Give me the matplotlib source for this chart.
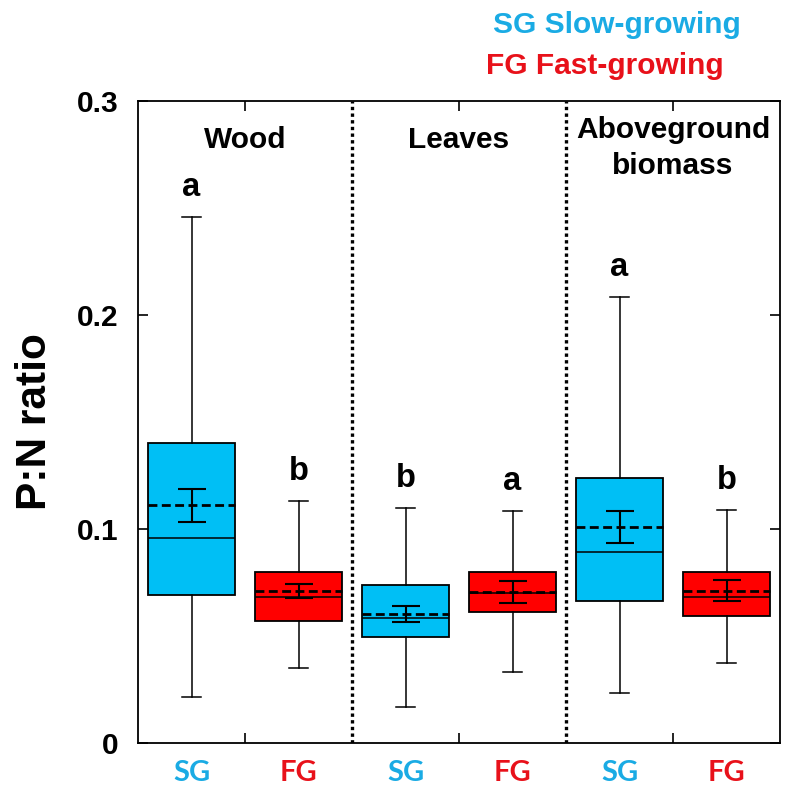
import matplotlib
matplotlib.use("Agg")
import matplotlib.pyplot as plt
import numpy as np

# ---- data ----
groups = ["Wood", "Leaves", "Aboveground\nbiomass"]
sg_whislo = [0.0216, 0.0167, 0.0232]
sg_q1 = [0.0690, 0.0497, 0.0664]
sg_med = [0.0958, 0.0586, 0.0891]
sg_q3 = [0.1400, 0.0740, 0.1240]
sg_whishi = [0.2460, 0.1098, 0.2086]
sg_mean = [0.1110, 0.0603, 0.1011]
sg_se = [0.0079, 0.0038, 0.0075]
sg_letters = ["a", "b", "a"]

fg_whislo = [0.0349, 0.0333, 0.0372]
fg_q1 = [0.0572, 0.0612, 0.0595]
fg_med = [0.0684, 0.0700, 0.0684]
fg_q3 = [0.0799, 0.0799, 0.0799]
fg_whishi = [0.1132, 0.1083, 0.1090]
fg_mean = [0.0712, 0.0706, 0.0712]
fg_se = [0.0033, 0.0050, 0.0050]
fg_letters = ["b", "a", "b"]

yticks = [0, 0.1, 0.2, 0.3]
ytick_labels = ["0", "0.1", "0.2", "0.3"]
ylabel = "P:N ratio"
legend_sg = "SG Slow-growing"
legend_fg = "FG Fast-growing"

SG_FILL = "#00BFF5"
FG_FILL = "#FF0000"
SG_TXT = "#1AABE4"
FG_TXT = "#E8111A"
ARIAL = "Liberation Sans"

fig = plt.figure(figsize=(8, 7.91), dpi=100)
ax = fig.add_axes([0.1725, 0.0607, 0.8025, 0.8116])

def stats(lo, q1, med, q3, hi, mean):
    return [dict(whislo=a, q1=b, med=c, q3=d, whishi=e, mean=f, fliers=[])
            for a, b, c, d, e, f in zip(lo, q1, med, q3, hi, mean)]

n = len(groups)
pos_sg = np.arange(n) + 0.25
pos_fg = np.arange(n) + 0.75

common = dict(widths=0.405, patch_artist=True, showmeans=True, meanline=True,
              showfliers=False,
              medianprops=dict(color="black", linewidth=1.1),
              whiskerprops=dict(color="black", linewidth=1.1),
              capprops=dict(color="black", linewidth=1.1),
              meanprops=dict(color="black", linestyle=(0, (3.2, 1.6)), linewidth=2.0),
              capwidths=0.085)

ax.bxp(stats(sg_whislo, sg_q1, sg_med, sg_q3, sg_whishi, sg_mean),
       positions=pos_sg, boxprops=dict(facecolor=SG_FILL, edgecolor="black", linewidth=1.3),
       manage_ticks=False, **common)
ax.bxp(stats(fg_whislo, fg_q1, fg_med, fg_q3, fg_whishi, fg_mean),
       positions=pos_fg, boxprops=dict(facecolor=FG_FILL, edgecolor="black", linewidth=1.3),
       manage_ticks=False, **common)

ax.errorbar(pos_sg, sg_mean, yerr=sg_se, fmt="none", ecolor="black",
            elinewidth=1.5, capsize=10, capthick=1.5, zorder=5)
ax.errorbar(pos_fg, fg_mean, yerr=fg_se, fmt="none", ecolor="black",
            elinewidth=1.5, capsize=10, capthick=1.5, zorder=5)

for p, hi, l in zip(pos_sg, sg_whishi, sg_letters):
    ax.text(p, hi + 0.0065, l, ha="center", va="bottom", fontsize=23.5,
            fontweight="bold", family=ARIAL)
for p, hi, l in zip(pos_fg, fg_whishi, fg_letters):
    ax.text(p, hi + 0.0065, l, ha="center", va="bottom", fontsize=23.5,
            fontweight="bold", family=ARIAL)

# group titles
title_y = [0.282, 0.282, 0.278]
for i, (g, ty) in enumerate(zip(groups, title_y)):
    ax.text(i + 0.5, ty, g, ha="center", va="center", fontsize=21.5,
            fontweight="bold", family=ARIAL, linespacing=1.4)

# dividers
for d in range(1, n):
    ax.axvline(d, color="black", linestyle=(0, (1, 1)), linewidth=2.4, zorder=1)

ax.set_xlim(0, n)
ax.set_ylim(0, 0.3)
ax.set_yticks(yticks)
ax.set_yticklabels(ytick_labels, fontsize=21.5, fontweight="bold", family=ARIAL)
ax.set_xticks(np.arange(n) + 0.5)
ax.set_xticklabels([])
allpos = np.sort(np.concatenate([pos_sg, pos_fg]))
ax.set_xticks(allpos, minor=True)
ax.set_xticklabels(["SG", "FG"] * n, minor=True, fontsize=21, fontweight="bold",
                   family="Lato")
for lab, c in zip(ax.get_xticklabels(minor=True), [SG_TXT, FG_TXT] * n):
    lab.set_color(c)
ax.tick_params(axis="x", which="minor", length=0, pad=12)
ax.tick_params(axis="both", which="major", direction="in", length=7, width=1.2,
               top=True, right=True)
ax.tick_params(axis="y", which="major", pad=14)

for s in ax.spines.values():
    s.set_linewidth(1.3)

ax.set_ylabel(ylabel, fontsize=30.5, fontweight="bold", family=ARIAL, labelpad=16)

fig.text(0.616, 0.9583, legend_sg, ha="left", va="baseline", fontsize=21.5,
         fontweight="bold", family=ARIAL, color=SG_TXT)
fig.text(0.6075, 0.9065, legend_fg, ha="left", va="baseline", fontsize=21.5,
         fontweight="bold", family=ARIAL, color=FG_TXT)

fig.savefig("out.png", dpi=100)
